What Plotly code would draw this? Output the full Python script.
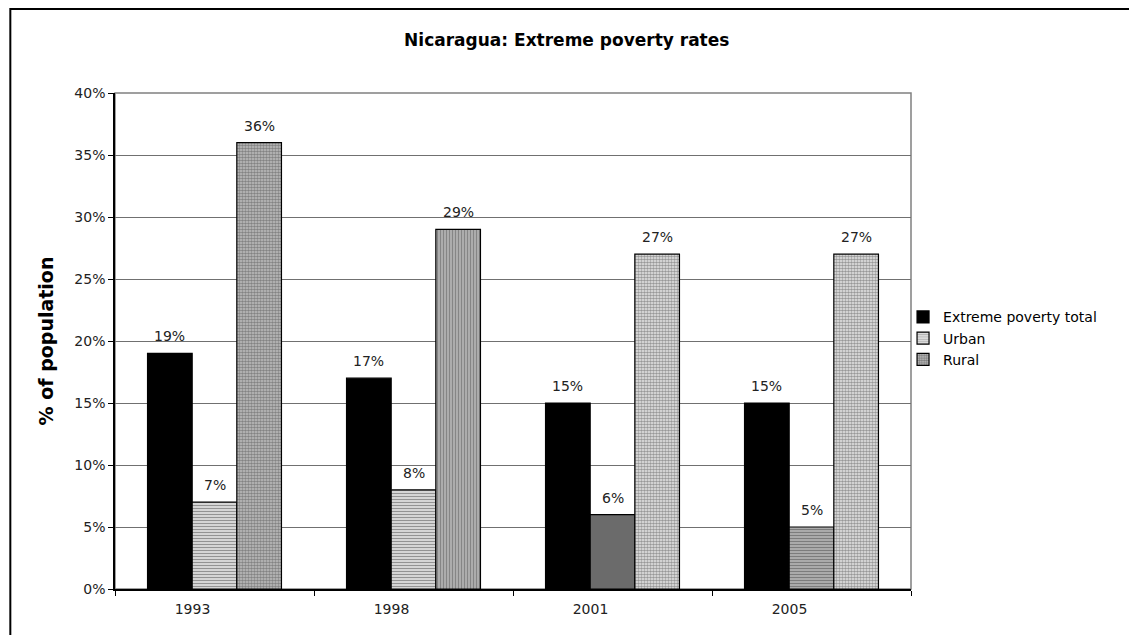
import plotly.graph_objects as go

# Extreme poverty rates, % of population
years = ["1993", "1998", "2001", "2005"]
total = [19, 17, 15, 15]
urban = [7, 8, 6, 5]
rural = [36, 29, 27, 27]

FONT = "DejaVu Sans"

# per-bar fills for the urban and rural series
urban_bg = ["#e2e2e2", "#e2e2e2", "#6b6b6b", "#b4b4b4"]
urban_fg = ["#8a8a8a", "#8a8a8a", "#6b6b6b", "#1e1e1e"]
urban_shape = ["-", "-", "", "-"]

rural_bg = ["#c2c2c2", "#c6c6c6", "#ececec", "#ececec"]
rural_fg = ["#3a3a3a", "#505050", "#8e8e8e", "#8e8e8e"]
rural_shape = [".", "|", ".", "."]

series = [
    ("Extreme poverty total", total),
    ("Urban", urban),
    ("Rural", rural),
]

# plot-area geometry used to place the value labels over each bar
W, H = 1129, 635
M = dict(l=115, r=218, t=93, b=46)
BARGAP = 0.327
plot_w = W - M["l"] - M["r"]
bar_px = plot_w / len(years) * (1 - BARGAP) / len(series)

fig = go.Figure()
fig.add_trace(go.Bar(
    name=series[0][0], x=years, y=total,
    marker=dict(color="#000000", line=dict(color="#000000", width=1.2)),
))
fig.add_trace(go.Bar(
    name=series[1][0], x=years, y=urban,
    marker=dict(
        color=urban_bg,
        line=dict(color="#000000", width=1.2),
        pattern=dict(shape=urban_shape, fgcolor=urban_fg,
                     size=3, solidity=0.45, fillmode="overlay"),
    ),
))
fig.add_trace(go.Bar(
    name=series[2][0], x=years, y=rural,
    marker=dict(
        color=rural_bg,
        line=dict(color="#000000", width=1.2),
        pattern=dict(shape=rural_shape, fgcolor=rural_fg,
                     size=3, solidity=0.6, fillmode="overlay"),
    ),
))

# value labels above each bar (x given as category index)
annotations = []
for i, (_, vals) in enumerate(series):
    offset = (i - (len(series) - 1) / 2) * bar_px
    for j, v in enumerate(vals):
        annotations.append(dict(
            x=j, y=v, xref="x", yref="y", text=f"{v}%",
            showarrow=False, xanchor="center", yanchor="bottom",
            xshift=offset, yshift=7,
            font=dict(family=FONT, size=14, color="#222222"),
        ))

fig.update_layout(
    width=W, height=H,
    margin=M,
    paper_bgcolor="#ffffff", plot_bgcolor="#ffffff",
    barmode="group", bargap=BARGAP, bargroupgap=0,
    font=dict(family=FONT, size=14, color="#222222"),
    title=dict(text="<b>Nicaragua: Extreme poverty rates</b>",
               x=0.502, xanchor="center", y=0.937, yanchor="middle",
               font=dict(family=FONT, size=17, color="#000000")),
    legend=dict(x=0.99, xanchor="left", y=0.58, yanchor="top",
                font=dict(family=FONT, size=14, color="#000000"),
                bgcolor="rgba(0,0,0,0)", tracegroupgap=0),
    showlegend=True,
    annotations=annotations,
    shapes=[
        # plot area frame
        dict(type="rect", xref="paper", yref="paper", x0=0, x1=1, y0=0, y1=1,
             line=dict(color="#808080", width=1.5), layer="below"),
        # chart border
        dict(type="rect", xref="paper", yref="paper",
             x0=-0.1315, x1=1.30, y0=-0.12, y1=1.1694,
             line=dict(color="#000000", width=2), layer="above"),
    ],
)

fig.update_xaxes(
    type="category", categoryorder="array", categoryarray=years,
    range=[-0.5, len(years) - 0.5], autorange=False,
    showline=True, linecolor="#000000", linewidth=1.5,
    ticks="outside", tickson="boundaries", ticklen=5, tickcolor="#000000",
    ticklabelshift=-22, ticklabelstandoff=6, showgrid=False, tickangle=0,
    tickfont=dict(family=FONT, size=14, color="#222222"),
)
fig.update_yaxes(
    range=[0, 40], autorange=False, dtick=5, ticksuffix="%",
    showline=True, linecolor="#000000", linewidth=1.5,
    ticks="outside", ticklen=5, tickcolor="#000000",
    showgrid=True, gridcolor="#707070", gridwidth=1,
    zeroline=False,
    tickfont=dict(family=FONT, size=14, color="#222222"),
    title=dict(text="<b>% of population</b>", standoff=16,
               font=dict(family=FONT, size=19, color="#000000")),
)

fig.write_html("out.html")
